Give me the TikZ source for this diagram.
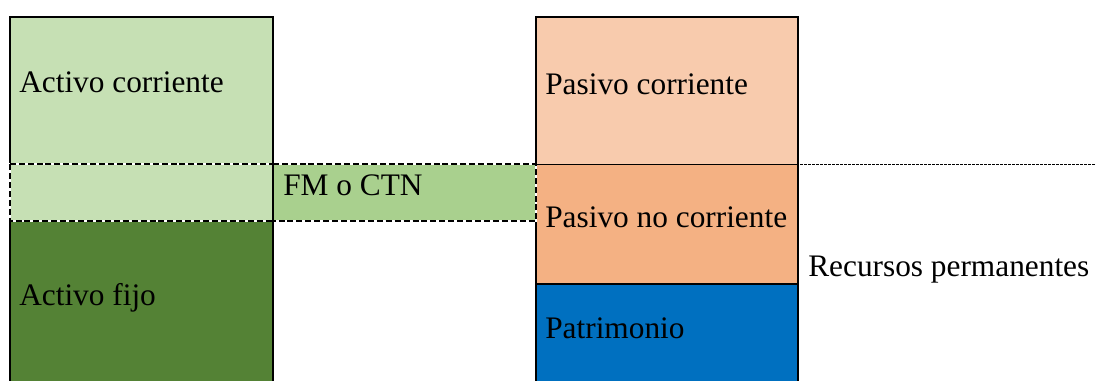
\documentclass[tikz,border=0pt]{standalone}
\usepackage{fontspec}
\setmainfont{Liberation Serif}
\definecolor{acorriente}{HTML}{C6E0B4}
\definecolor{fmctn}{HTML}{A9D08E}
\definecolor{afijo}{HTML}{548235}
\definecolor{pcorriente}{HTML}{F8CBAD}
\definecolor{pnocorriente}{HTML}{F4B183}
\definecolor{patrimonio}{HTML}{0070C0}
\begin{document}
\begin{tikzpicture}[x=0.75pt,y=-0.75pt,
    borde/.style={line width=1.8pt,black},
    corte/.style={line width=1.6pt,dash pattern=on 4.5pt off 2.2pt},
    etiqueta/.style={anchor=west,inner sep=0pt,font=\fontsize{23.5}{28}\selectfont}]
\useasboundingbox (0,0) rectangle (1095,381);

%draw the asset column
\fill[acorriente] (10,17) rectangle (273,221);
\fill[afijo] (10,221) rectangle (273,381);
\draw[borde] (10,382) -- (10,17) -- (273,17) -- (273,382);

%draw the liabilities column
\fill[pcorriente] (536,17) rectangle (798,164);
\fill[pnocorriente] (536,164) rectangle (798,284);
\fill[patrimonio] (536,284) rectangle (798,381);
\draw[black,line width=0.7pt] (536,164) -- (798,164);
\draw[borde] (536,284) -- (798,284);
\draw[borde] (536,382) -- (536,17) -- (798,17) -- (798,382);

%draw the working capital band
\fill[fmctn] (273,164) rectangle (536,221);
\draw[white,line width=1.6pt] (10,164) rectangle (273,221);
\draw[white,line width=1.6pt] (273,164) rectangle (536,221);
\draw[corte] (10,164) rectangle (273,221);
\draw[corte] (273,164) rectangle (536,221);

%dashed line to the right
\draw[line width=0.6pt,dash pattern=on 2pt off 1pt] (800,164) -- (1095,164);

%labels
\node[etiqueta] (activoc) at (19,82) {Activo corriente};
\node[etiqueta] (fm) at (283,185) {FM o CTN};
\node[etiqueta] (activof) at (19,298) {Activo fijo};
\node[etiqueta] (pasivoc) at (545,84) {Pasivo corriente};
\node[etiqueta] (pasivonc) at (545,217) {Pasivo no corriente};
\node[etiqueta] (patri) at (545,328) {Patrimonio};
\node[etiqueta] (recursos) at (808,270) {Recursos permanentes};
\end{tikzpicture}
\end{document}
